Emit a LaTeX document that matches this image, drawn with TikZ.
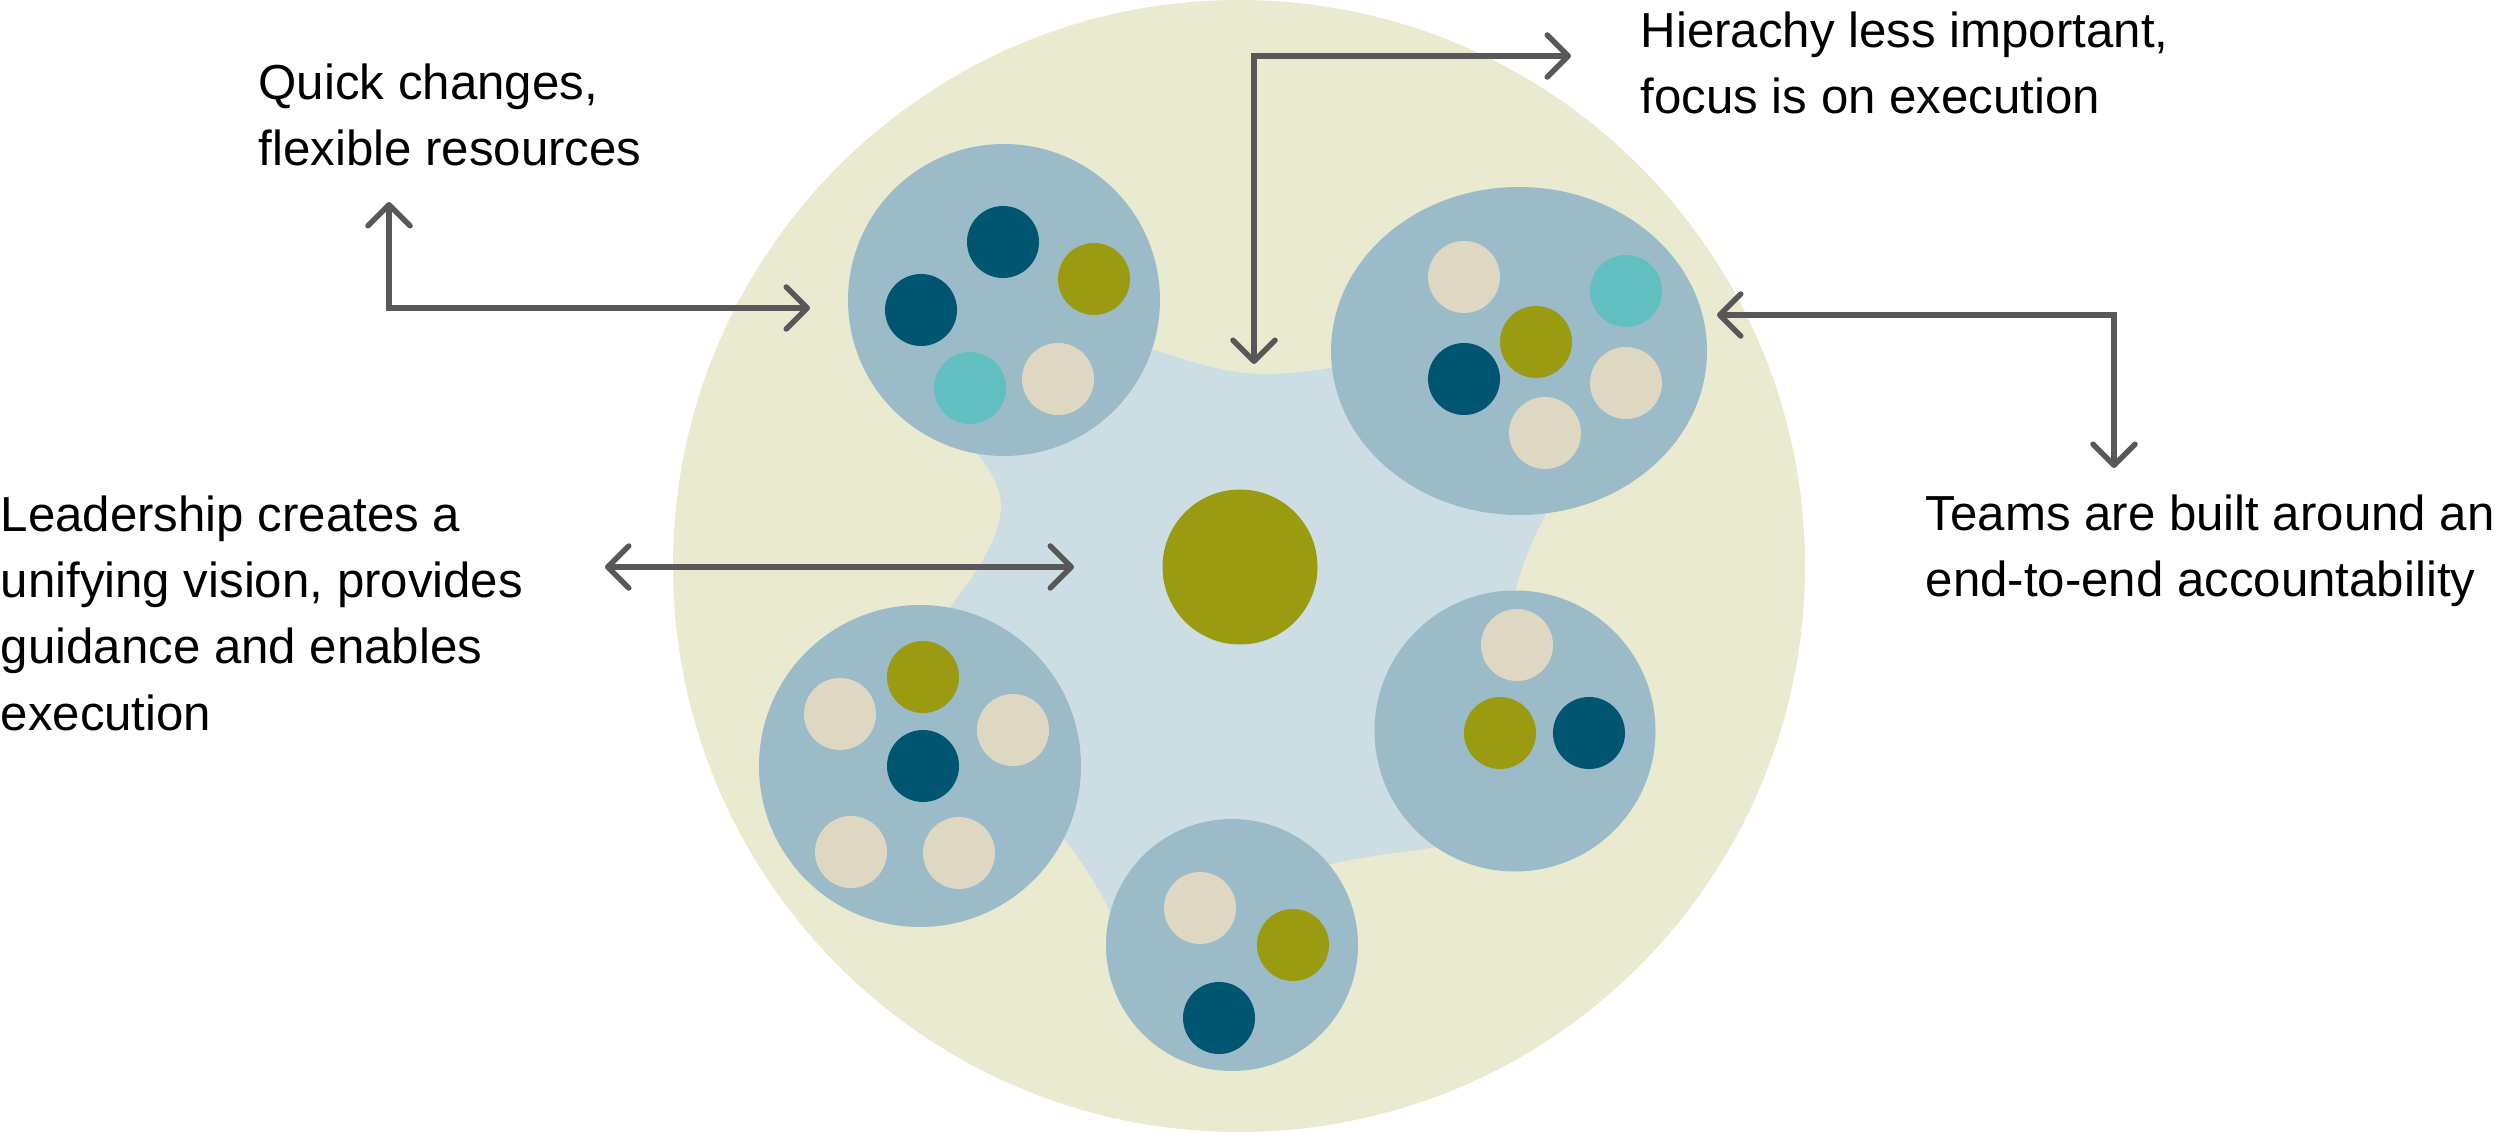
\documentclass[tikz,border=0pt]{standalone}
\usepackage{fontspec}
\setmainfont{Liberation Sans}
\usetikzlibrary{arrows.meta,shapes.geometric}

\definecolor{field}{HTML}{E9EAD0}
\definecolor{pool}{HTML}{CCDEE4}
\definecolor{teamblue}{HTML}{9BBBC8}
\definecolor{navy}{HTML}{005570}
\definecolor{moss}{HTML}{9A9B10}
\definecolor{aqua}{HTML}{62BFBF}
\definecolor{sand}{HTML}{DED7C2}
\definecolor{wire}{HTML}{58585A}

\begin{document}
\begin{tikzpicture}[x=0.1mm,y=-0.1mm,
	team/.style={circle,fill=teamblue,inner sep=0pt},
	dot/.style={circle,inner sep=0pt,minimum size=7.2mm},
	navydot/.style={dot,fill=navy},
	mossdot/.style={dot,fill=moss},
	aquadot/.style={dot,fill=aqua},
	sanddot/.style={dot,fill=sand},
	barb/.tip={Straight Barb[length=2.1mm,width=4.2mm,round]},
	link/.style={barb-barb,draw=wire,line width=0.55mm,line cap=round},
	note/.style={anchor=base west,align=left,inner sep=0pt,font=\fontsize{14pt}{18.8pt}\selectfont}]
	\useasboundingbox (0,0) rectangle (2500,1134);

	\node[circle,fill=field,inner sep=0pt,minimum size=113.2mm] (org) at (1239,566) {};

	% shared space between the teams
	\fill[pool] (1004,300) -- (1140,345) .. controls (1190,362) and (1230,375) .. (1270,374)
		.. controls (1300,373) and (1320,370) .. (1345,365) -- (1519,351) -- (1550,505)
		.. controls (1535,535) and (1520,565) .. (1514,600) -- (1515,731) -- (1450,845)
		.. controls (1400,853) and (1360,856) .. (1320,867) -- (1232,945) -- (1112,915)
		.. controls (1097,885) and (1080,858) .. (1058,832) -- (920,766) -- (948,610)
		.. controls (975,575) and (998,542) .. (1001,510) .. controls (1002,488) and (990,468) .. (972,448) -- cycle;

	\node[circle,fill=moss,inner sep=0pt,minimum size=15.5mm] (hub) at (1240,567) {};

	\node[team,minimum size=31.2mm] (tl) at (1004,300) {};
	\node[ellipse,fill=teamblue,inner sep=0pt,minimum width=37.6mm,minimum height=32.8mm] (tr) at (1519,351) {};
	\node[team,minimum size=32.2mm] (bl) at (920,766) {};
	\node[team,minimum size=28.1mm] (rt) at (1515,731) {};
	\node[team,minimum size=25.2mm] (bt) at (1232,945) {};

	\node[navydot] (tl1) at (1003,242) {};
	\node[mossdot] (tl2) at (1094,279) {};
	\node[navydot] (tl3) at (921,310) {};
	\node[aquadot] (tl4) at (970,388) {};
	\node[sanddot] (tl5) at (1058,379) {};

	\node[sanddot] (tr1) at (1464,277) {};
	\node[aquadot] (tr2) at (1626,291) {};
	\node[mossdot] (tr3) at (1536,342) {};
	\node[navydot] (tr4) at (1464,379) {};
	\node[sanddot] (tr5) at (1626,383) {};
	\node[sanddot] (tr6) at (1545,433) {};

	\node[mossdot] (bl1) at (923,677) {};
	\node[sanddot] (bl2) at (840,714) {};
	\node[sanddot] (bl3) at (1013,730) {};
	\node[navydot] (bl4) at (923,766) {};
	\node[sanddot] (bl5) at (851,852) {};
	\node[sanddot] (bl6) at (959,853) {};

	\node[sanddot] (rt1) at (1517,645) {};
	\node[mossdot] (rt2) at (1500,733) {};
	\node[navydot] (rt3) at (1589,733) {};

	\node[sanddot] (bt1) at (1200,908) {};
	\node[mossdot] (bt2) at (1293,945) {};
	\node[navydot] (bt3) at (1219,1018) {};

	\node[note] (quick) at (258,166) {Quick changes,\\flexible resources};
	\node[note] (lead) at (0,730) {Leadership creates a\\unifying vision, provides\\guidance and enables\\execution};
	\node[note] (hier) at (1640,114) {Hierachy less important,\\focus is on execution};
	\node[note] (teams) at (1925,597) {Teams are built around an\\end-to-end accountability};

	\coordinate (qtip) at (389,202);
	\coordinate (qend) at (810,308);
	\coordinate (htip) at (1254,364);
	\coordinate (hend) at (1571,56);
	\coordinate (ttip) at (1717,315);
	\coordinate (tend) at (2114,468);
	\coordinate (ltip) at (605,567);
	\coordinate (lend) at (1074,567);

	\draw[link] (qtip) |- (qend);
	\draw[link] (htip) |- (hend);
	\draw[link] (ttip) -| (tend);
	\draw[link] (ltip) -- (lend);
\end{tikzpicture}
\end{document}
